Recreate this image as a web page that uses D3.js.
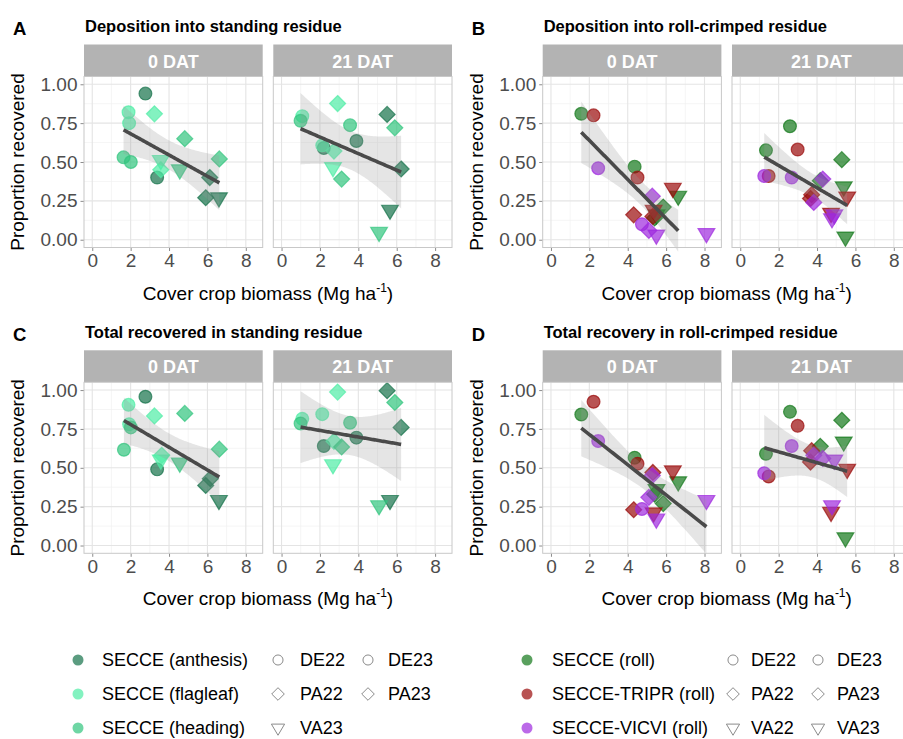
<!DOCTYPE html>
<html><head><meta charset="utf-8">
<script src="https://cdn.jsdelivr.net/npm/d3@7"></script>
<style>
body{margin:0;background:#fff}
text{font-family:"Liberation Sans",Arial,Helvetica,sans-serif}
</style>
</head><body>
<svg id="chart" width="903" height="739"></svg>
<script>
// ---------------- data ----------------
const facets = ["0 DAT", "21 DAT"];
const xTicks = [0, 2, 4, 6, 8];
const xMinor = [1, 3, 5, 7];
const yTicks = [0, 0.25, 0.5, 0.75, 1];
const yMinor = [0.125, 0.375, 0.625, 0.875];
const yTickLabels = ["0.00", "0.25", "0.50", "0.75", "1.00"];

const standingGroups = ["SECCE (anthesis)", "SECCE (flagleaf)", "SECCE (heading)"];
const standingColors = ["#16724a", "#4feca5", "#31c47d"];
const rolledGroups = ["SECCE (roll)", "SECCE-TRIPR (roll)", "SECCE-VICVI (roll)"];
const rolledColors = ["#12781a", "#9a0a0a", "#9e2ade"];
const standingSites = [["DE22", "DE23"], ["PA22", "PA23"], ["VA23"]];
const rolledSites = [["DE22", "DE23"], ["PA22", "PA23"], ["VA22", "VA23"]];

// [biomass, proportion, group index, site]
const standingDep0 = [
  [2.77,0.94,0,"DE22"],[3.38,0.40,0,"DE23"],[6.12,0.40,0,"PA22"],[5.91,0.27,0,"PA23"],[6.60,0.27,0,"VA23"],
  [1.89,0.82,1,"DE22"],[1.92,0.75,1,"DE23"],[3.24,0.81,1,"PA22"],[3.57,0.45,1,"PA23"],[3.57,0.51,1,"VA23"],
  [1.63,0.53,2,"DE22"],[2.01,0.50,2,"DE23"],[4.82,0.65,2,"PA22"],[6.62,0.52,2,"PA23"],[4.56,0.45,2,"VA23"]];
const standingDep21 = [
  [3.90,0.635,0,"DE22"],[2.20,0.59,0,"DE23"],[5.50,0.806,0,"PA22"],[6.23,0.455,0,"PA23"],[5.65,0.19,0,"VA23"],
  [1.08,0.795,1,"DE22"],[2.12,0.607,1,"DE23"],[2.92,0.876,1,"PA22"],[2.73,0.57,1,"PA23"],[2.68,0.464,1,"VA23"],
  [0.99,0.765,2,"DE22"],[3.57,0.737,2,"DE23"],[3.13,0.39,2,"PA22"],[5.90,0.72,2,"PA23"],[5.08,0.047,2,"VA23"]];
const standingTot0 = [
  [2.77,0.957,0,"DE22"],[3.38,0.49,0,"DE23"],[6.15,0.43,0,"PA22"],[5.91,0.386,0,"PA23"],[6.60,0.29,0,"VA23"],
  [1.89,0.905,1,"DE22"],[1.92,0.78,1,"DE23"],[3.24,0.834,1,"PA22"],[3.62,0.58,1,"PA23"],[3.57,0.55,1,"VA23"],
  [1.65,0.616,2,"DE22"],[2.01,0.76,2,"DE23"],[4.82,0.85,2,"PA22"],[6.62,0.62,2,"PA23"],[4.56,0.53,2,"VA23"]];
const standingTot21 = [
  [3.90,0.694,0,"DE22"],[2.20,0.64,0,"DE23"],[5.50,0.996,0,"PA22"],[6.23,0.76,0,"PA23"],[5.65,0.29,0,"VA23"],
  [1.08,0.815,1,"DE22"],[2.12,0.845,1,"DE23"],[2.92,0.987,1,"PA22"],[2.73,0.67,1,"PA23"],[2.68,0.52,1,"VA23"],
  [0.99,0.785,2,"DE22"],[3.57,0.79,2,"DE23"],[3.13,0.634,2,"PA22"],[5.90,0.92,2,"PA23"],[5.08,0.256,2,"VA23"]];

// [biomass, proportion, mixture index, site, used in fit (1/0)]
const rolledDep0 = [
  [1.58,0.81,0,"DE22",1],[4.36,0.47,0,"DE23",1],[5.85,0.21,0,"PA22",1],[5.40,0.14,0,"PA23",1],[6.63,0.28,0,"VA22",1],[5.50,0.16,0,"VA23",1],
  [2.22,0.80,1,"DE22",1],[4.51,0.40,1,"DE23",1],[4.31,0.16,1,"PA22",1],[5.31,0.15,1,"PA23",1],[6.35,0.33,1,"VA22",1],[5.35,0.19,1,"VA23",1],
  [2.46,0.46,2,"DE22",1],[4.74,0.10,2,"DE23",1],[5.28,0.28,2,"PA22",1],[5.10,0.06,2,"PA23",1],[5.49,0.03,2,"VA22",1],[8.10,0.04,2,"VA23",0]];
const rolledDep21 = [
  [1.34,0.575,0,"DE22",1],[2.59,0.73,0,"DE23",1],[5.29,0.515,0,"PA22",1],[4.17,0.38,0,"PA23",1],[5.39,0.34,0,"VA22",1],[5.48,0.017,0,"VA23",1],
  [1.48,0.41,1,"DE22",1],[2.99,0.58,1,"DE23",1],[3.72,0.29,1,"PA22",1],[3.66,0.265,1,"PA23",1],[5.57,0.275,1,"VA22",1],[4.73,0.17,1,"VA23",1],
  [1.25,0.41,2,"DE22",1],[2.68,0.40,2,"DE23",1],[4.30,0.39,2,"PA22",1],[3.83,0.24,2,"PA23",1],[4.90,0.16,2,"VA22",1],[4.78,0.135,2,"VA23",1]];
const rolledTot0 = [
  [1.58,0.843,0,"DE22",1],[4.36,0.565,0,"DE23",1],[5.85,0.27,0,"PA22",1],[5.40,0.33,0,"PA23",1],[6.63,0.41,0,"VA22",1],[5.50,0.36,0,"VA23",1],
  [2.22,0.925,1,"DE22",1],[4.51,0.526,1,"DE23",1],[4.31,0.23,1,"PA22",1],[5.31,0.47,1,"PA23",1],[6.35,0.48,1,"VA22",1],[5.35,0.21,1,"VA23",1],
  [2.46,0.672,2,"DE22",1],[4.74,0.235,2,"DE23",1],[5.28,0.45,2,"PA22",1],[5.10,0.31,2,"PA23",1],[5.49,0.17,2,"VA22",1],[8.10,0.29,2,"VA23",1]];
const rolledTot21 = [
  [1.34,0.59,0,"DE22",1],[2.59,0.86,0,"DE23",1],[5.29,0.806,0,"PA22",1],[4.17,0.638,0,"PA23",1],[5.39,0.666,0,"VA22",1],[5.48,0.05,0,"VA23",1],
  [1.48,0.444,1,"DE22",1],[2.99,0.77,1,"DE23",1],[3.72,0.61,1,"PA22",1],[3.66,0.537,1,"PA23",1],[5.57,0.49,1,"VA22",1],[4.73,0.213,1,"VA23",1],
  [1.25,0.465,2,"DE22",1],[2.68,0.64,2,"DE23",1],[4.30,0.56,2,"PA22",1],[3.83,0.58,2,"PA23",1],[4.90,0.55,2,"VA22",1],[4.78,0.256,2,"VA23",1]];

const panelDefs = [
  {letter:"A", title:"Deposition into standing residue", col:0, row:0, data:[standingDep0, standingDep21], colors:standingColors},
  {letter:"B", title:"Deposition into roll-crimped residue", col:1, row:0, data:[rolledDep0, rolledDep21], colors:rolledColors},
  {letter:"C", title:"Total recovered in standing residue", col:0, row:1, data:[standingTot0, standingTot21], colors:standingColors},
  {letter:"D", title:"Total recovery in roll-crimped residue", col:1, row:1, data:[rolledTot0, rolledTot21], colors:rolledColors}
];

// ---------------- layout ----------------
const colLeft = [84, 542.7];
const rowTop = [76.5, 382.3];
const panelW = 178.7, facetGap = 10.6, panelH = 171, stripH = 32;
const ALPHA = 0.7;

const svg = d3.select("#chart");

function shapePath(site, s) {
  const k = site.slice(0, 2);
  if (k === "DE") return d3.path().toString() || null;
  return null;
}
function symbolPath(site, size) {
  const k = site.slice(0, 2);
  const p = d3.path();
  if (k === "DE") { p.arc(0, 0, size * 0.8, 0, 2 * Math.PI); p.closePath(); }
  else if (k === "PA") { const h = size; p.moveTo(0, -h); p.lineTo(h, 0); p.lineTo(0, h); p.lineTo(-h, 0); p.closePath(); }
  else { const w = size * 1.05, t = size * 0.62, b = size * 1.15; p.moveTo(-w, -t); p.lineTo(w, -t); p.lineTo(0, b); p.closePath(); }
  return p.toString();
}

// t quantile (0.975) via Cornish-Fisher style expansion
function tq975(df) {
  const z = 1.959964;
  const z3 = z*z*z, z5 = z3*z*z, z7 = z5*z*z;
  return z + (z3 + z) / (4 * df) + (5*z5 + 16*z3 + 3*z) / (96 * df * df)
       + (3*z7 + 19*z5 + 17*z3 - 15*z) / (384 * df * df * df);
}
function lmFit(rows) {
  const pts = rows.filter(r => r.length < 5 || r[4] === 1);
  const n = pts.length;
  const mx = d3.mean(pts, d => d[0]), my = d3.mean(pts, d => d[1]);
  const sxx = d3.sum(pts, d => (d[0]-mx)**2), sxy = d3.sum(pts, d => (d[0]-mx)*(d[1]-my));
  const b = sxy / sxx, a = my - b * mx;
  const sse = d3.sum(pts, d => (d[1] - a - b*d[0])**2);
  const s = Math.sqrt(sse / (n - 2));
  const t = tq975(n - 2);
  const [x0, x1] = d3.extent(pts, d => d[0]);
  const out = [];
  for (let i = 0; i <= 80; i++) {
    const x = x0 + (x1 - x0) * i / 80;
    const yh = a + b * x;
    const se = s * Math.sqrt(1/n + (x-mx)**2 / sxx);
    out.push({x, y: yh, lo: yh - t*se, hi: yh + t*se});
  }
  return out;
}

panelDefs.forEach(pd => {
  const left0 = colLeft[pd.col], top = rowTop[pd.row];
  // titles
  svg.append("text").attr("x", left0 - 71).attr("y", top - 41.5)
    .attr("font-size", 18.5).attr("font-weight", "bold").attr("fill", "#000").text(pd.letter);
  svg.append("text").attr("x", left0 + 1).attr("y", top - 44.2)
    .attr("font-size", 16.5).attr("font-weight", "bold").attr("fill", "#000").text(pd.title);
  // y title
  svg.append("text")
    .attr("transform", `translate(${left0 - 60},${top + panelH/2}) rotate(-90)`)
    .attr("text-anchor", "middle").attr("font-size", 19).attr("fill", "#000")
    .text("Proportion recovered");
  // x title
  const xt = svg.append("text").attr("x", left0 + panelW + facetGap/2).attr("y", top + panelH + 52)
    .attr("text-anchor", "middle").attr("font-size", 19).attr("fill", "#000");
  xt.append("tspan").text("Cover crop biomass (Mg ha");
  xt.append("tspan").attr("font-size", 12).attr("dy", -8).text("-1");
  xt.append("tspan").attr("dy", 8).text(")");

  facets.forEach((fname, fi) => {
    const left = left0 + fi * (panelW + facetGap);
    const x = d3.scaleLinear().domain([-0.43, 8.88]).range([left, left + panelW]);
    const y = d3.scaleLinear().domain([-0.05, 1.05]).range([top + panelH, top]);
    const g = svg.append("g");
    // strip
    g.append("rect").attr("x", left).attr("y", top - stripH).attr("width", panelW).attr("height", stripH)
      .attr("fill", "#b3b3b3");
    g.append("text").attr("x", left + panelW/2).attr("y", top - stripH/2 + 1)
      .attr("text-anchor", "middle").attr("dominant-baseline", "central")
      .attr("font-size", 18).attr("font-weight", "bold").attr("fill", "#fff").text(fname);
    // background + grid
    g.append("rect").attr("x", left).attr("y", top).attr("width", panelW).attr("height", panelH).attr("fill", "#fff");
    g.selectAll(".gxm").data(xMinor).join("line")
      .attr("x1", d => x(d)).attr("x2", d => x(d)).attr("y1", top).attr("y2", top + panelH)
      .attr("stroke", "#f0f0f0").attr("stroke-width", 0.7);
    g.selectAll(".gym").data(yMinor).join("line")
      .attr("y1", d => y(d)).attr("y2", d => y(d)).attr("x1", left).attr("x2", left + panelW)
      .attr("stroke", "#f0f0f0").attr("stroke-width", 0.7);
    g.selectAll(".gx").data(xTicks).join("line")
      .attr("x1", d => x(d)).attr("x2", d => x(d)).attr("y1", top).attr("y2", top + panelH)
      .attr("stroke", "#e4e4e4").attr("stroke-width", 1.1);
    g.selectAll(".gy").data(yTicks).join("line")
      .attr("y1", d => y(d)).attr("y2", d => y(d)).attr("x1", left).attr("x2", left + panelW)
      .attr("stroke", "#e4e4e4").attr("stroke-width", 1.1);

    // x axis
    const xa = g.append("g").attr("transform", `translate(0,${top + panelH})`)
      .call(d3.axisBottom(x).tickValues(xTicks).tickSize(3.5).tickPadding(3).tickFormat(d3.format("d")));
    xa.select(".domain").remove();
    xa.selectAll("line").attr("stroke", "#8c8c8c");
    xa.selectAll("text").attr("font-size", 19).attr("fill", "#4d4d4d").attr("font-family", "Liberation Sans, Arial, sans-serif");
    if (fi === 0) {
      const ya = g.append("g").attr("transform", `translate(${left},0)`)
        .call(d3.axisLeft(y).tickValues(yTicks).tickSize(3.5).tickPadding(3).tickFormat((d, i) => yTickLabels[i]));
      ya.select(".domain").remove();
      ya.selectAll("line").attr("stroke", "#8c8c8c");
      ya.selectAll("text").attr("font-size", 19).attr("fill", "#4d4d4d").attr("font-family", "Liberation Sans, Arial, sans-serif");
    }

    const rows = pd.data[fi];
    // points
    g.selectAll(".pt").data(rows).join("path")
      .attr("transform", d => `translate(${x(d[0])},${y(d[1])})`)
      .attr("d", d => symbolPath(d[3], 8))
      .attr("fill", d => pd.colors[d[2]]).attr("fill-opacity", ALPHA)
      .attr("stroke", d => pd.colors[d[2]]).attr("stroke-opacity", ALPHA).attr("stroke-width", 1.2);

    // fit
    const fit = lmFit(rows);
    g.append("path").datum(fit)
      .attr("d", d3.area().x(d => x(d.x)).y0(d => y(d.lo)).y1(d => y(d.hi)))
      .attr("fill", "#999999").attr("fill-opacity", 0.25);
    g.append("path").datum(fit)
      .attr("d", d3.line().x(d => x(d.x)).y(d => y(d.y)))
      .attr("fill", "none").attr("stroke", "#4a4a4a").attr("stroke-width", 3.6);

    // border
    g.append("rect").attr("x", left).attr("y", top).attr("width", panelW).attr("height", panelH)
      .attr("fill", "none").attr("stroke", "#c8c8c8").attr("stroke-width", 1);
  });
});

// ---------------- legends ----------------
const legRowsY = [660, 694, 728];
function drawLegend(groups, colors, sites, dotX, textX, sx1, tx1, sx2, tx2) {
  const lg = svg.append("g");
  groups.forEach((name, i) => {
    lg.append("circle").attr("cx", dotX).attr("cy", legRowsY[i]).attr("r", 5.5)
      .attr("fill", colors[i]).attr("fill-opacity", ALPHA);
    lg.append("text").attr("x", textX).attr("y", legRowsY[i]).attr("dominant-baseline", "central")
      .attr("font-size", 18).attr("fill", "#000").text(name);
  });
  sites.forEach((pair, i) => {
    pair.forEach((site, j) => {
      const sx = j === 0 ? sx1 : sx2, tx = j === 0 ? tx1 : tx2;
      lg.append("path").attr("transform", `translate(${sx},${legRowsY[i]})`)
        .attr("d", symbolPath(site, 6.3)).attr("fill", "none").attr("stroke", "#8a8a8a").attr("stroke-width", 1);
      lg.append("text").attr("x", tx).attr("y", legRowsY[i]).attr("dominant-baseline", "central")
        .attr("font-size", 18).attr("fill", "#000").text(site);
    });
  });
}
drawLegend(standingGroups, standingColors, standingSites, 78, 102, 278, 300, 368, 388);
drawLegend(rolledGroups, rolledColors, rolledSites, 527, 552, 733, 751, 818, 837);
</script>
</body></html>
